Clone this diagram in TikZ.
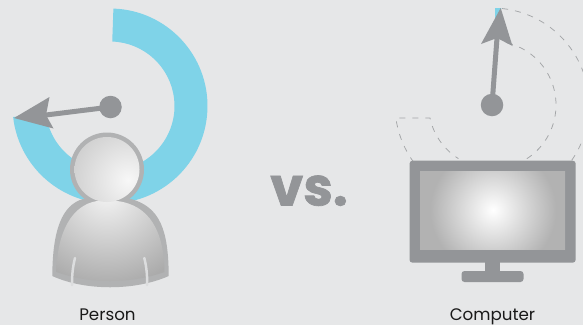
\documentclass[tikz,border=0pt]{standalone}
\usepackage{fontspec}
\setmainfont{Poppins}
\newfontfamily\vsfont[BoldFeatures={FakeBold=1.3}]{Poppins}
\usetikzlibrary{calc}
\definecolor{bgc}{HTML}{E6E7E8}
\definecolor{ringc}{HTML}{7FD3E8}
\definecolor{darkg}{HTML}{939598}
\definecolor{edgeg}{HTML}{B1B2B3}
\definecolor{armc}{HTML}{DCDDDE}
\pgfdeclareradialshading{screenglow}{\pgfpoint{0bp}{0bp}}{color(0bp)=(white); color(12.5bp)=(black!30); color(50bp)=(black!30)}
\pgfdeclareradialshading{bodyglow}{\pgfpoint{0bp}{0bp}}{color(0bp)=(white!96!black); color(12.5bp)=(black!33); color(50bp)=(black!33)}
\pgfdeclareradialshading{headglow}{\pgfpoint{0bp}{0bp}}{color(0bp)=(white!97!black); color(12.5bp)=(black!22); color(50bp)=(black!22)}
\tikzset{
  needle/.style={draw=darkg,line width=5pt},
  headtip/.style={fill=darkg},
  pivot/.style={circle,fill=darkg,minimum size=22.5pt,inner sep=0pt},
  ghost/.style={draw=darkg!85,line width=0.75pt,dash pattern=on 6pt off 7pt},
  armline/.style={draw=armc,line width=2.5pt,line cap=round},
  caption/.style={anchor=base,font=\fontsize{16.7}{19}\selectfont,text=black!90},
}
\begin{document}
\begin{tikzpicture}[x=1pt,y=-1pt]
\useasboundingbox (0,0) rectangle (583,325);
\fill[bgc] (0,0) rectangle (583,325);
% person ring
\coordinate (pc) at (110,106);
\fill[ringc] ($(pc)+(88:97.5pt)$) arc[start angle=88,end angle=-173.5,radius=97.5pt]
  -- ($(pc)+(-173.5:64.5pt)$) arc[start angle=-173.5,end angle=88,radius=64.5pt] -- cycle;
% person needle
\node[pivot] (pdot) at (110.5,107) {};
\coordinate (ptip) at (14,118);
\coordinate (pnotch) at (46,115);
\draw[needle] (pdot.center) -- (pnotch);
\fill[headtip] (ptip) -- (49.5,97) -- (pnotch) -- (53.5,128.5) -- cycle;
% person silhouette
\fill[edgeg] (107,169.5) circle (37pt);
\fill[edgeg] (83,199) .. controls (62,205) and (52.5,230) .. (52.3,276)
  .. controls (85,291) and (135,291) .. (168.7,276)
  .. controls (168.5,230) and (160,207) .. (131,199) -- cycle;
\begin{scope}
\clip (97,201) .. controls (72,205) and (57,232) .. (56.5,272)
  .. controls (90,284) and (130,284) .. (164.5,272)
  .. controls (164,232) and (150,205) .. (117,201) -- cycle;
\shade[shading=bodyglow] (107,192) circle (190pt);
\end{scope}
\begin{scope}
\clip (107,169.5) circle (32.5pt);
\shade[shading=headglow] (128,180) circle (140pt);
\end{scope}
\draw[armline] (75,258) .. controls (72.5,268) and (72,276) .. (72,285);
\draw[armline] (144.3,258) .. controls (146.8,268) and (147.2,276) .. (147.2,285);
% computer ring
\coordinate (cc) at (492,105);
\fill[ringc] (495,8) -- (501.5,8) -- (495,20) -- cycle;
\begin{scope}
\clip (0,0) rectangle (583,325);
\draw[ghost] ($(cc)+(84:97pt)$) arc[start angle=84,end angle=-44,radius=97pt];
\draw[ghost] ($(cc)+(-136:97pt)$) arc[start angle=-136,end angle=-172.3,radius=97pt]
  -- (430,118) arc[start angle=-168,end angle=-122,radius=63.4pt];
\draw[ghost] ($(cc)+(-57:64pt)$) arc[start angle=-57,end angle=78,radius=64pt];
\end{scope}
% computer needle
\node[pivot] (cdot) at (492,105) {};
\coordinate (ctip) at (500.7,8);
\coordinate (cnotch) at (497,38);
\draw[needle] (cdot.center) -- (cnotch);
\fill[headtip] (ctip) -- (481,44) -- (cnotch) -- (512.5,46) -- cycle;
% monitor
\fill[darkg,rounded corners=3pt] (409.5,160.7) rectangle (575.7,262.7);
\begin{scope}
\clip (420,171) rectangle (565,249);
\shade[shading=screenglow] (493,210) circle (125pt);
\end{scope}
\fill[darkg] (485,260) rectangle (500,273);
\fill[darkg,rounded corners=3pt] (461.5,271) rectangle (523.5,282);
% labels
\node[caption] (person) at (107.5,320.5) {Person};
\node[caption] (computer) at (492.5,320.5) {Computer};
\node[anchor=base,font=\vsfont\fontsize{53}{58}\selectfont\bfseries,text=darkg] (versus) at (309,205.5) {vs.};
\end{tikzpicture}
\end{document}
